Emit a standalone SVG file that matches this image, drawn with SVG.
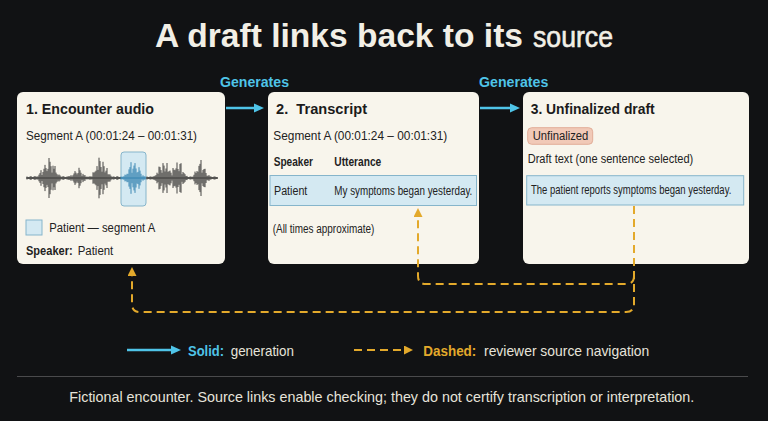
<svg xmlns="http://www.w3.org/2000/svg" width="768" height="421" viewBox="0 0 768 421">
<defs>
<style>
.bg{fill:#111214}
.box{fill:#f8f5ec}
.h{font-family:'Liberation Sans',Arial,sans-serif;font-weight:bold;font-size:15.5px;fill:#1b1b1b}
.b{font-family:'Liberation Sans',Arial,sans-serif;font-size:12.5px;fill:#222}
.bb{font-weight:bold}
.hl{fill:#d4e9f2;stroke:#86b5cb;stroke-width:1}
.gen{stroke:#4fc4e8;stroke-width:2.5;fill:none}
.nav{stroke:#e3a92b;stroke-width:2;stroke-dasharray:8 5;fill:none}
.cy{fill:#4fc4e8}
.lt{font-family:'Liberation Sans',Arial,sans-serif;font-size:14.5px;fill:#e6e3da}
.wave{stroke:#333;stroke-width:0.9;fill:none}
.waveb{stroke:#2f7fae;stroke-width:0.9;fill:none}
</style>
<marker id="ac" viewBox="0 0 10 10" refX="4" refY="5" markerWidth="10" markerHeight="10" markerUnits="userSpaceOnUse" orient="auto">
<path d="M0,0.5 L10,5 L0,9.5 z" fill="#4fc4e8"/>
</marker>
<marker id="ao" viewBox="0 0 9 9" refX="3" refY="4.5" markerWidth="9" markerHeight="9" markerUnits="userSpaceOnUse" orient="auto">
<path d="M0,0 L9,4.5 L0,9 z" fill="#e3a92b"/>
</marker>
</defs>
<rect class="bg" x="0" y="0" width="768" height="421"/>

<text id="title" x="155" y="47" font-family="'Liberation Sans',Arial,sans-serif" font-weight="bold" font-size="33" fill="#f2efe6"><tspan textLength="368" lengthAdjust="spacingAndGlyphs">A draft links back to its</tspan> <tspan x="533" font-weight="normal" font-size="29" stroke="#f2efe6" stroke-width="0.6" textLength="80" lengthAdjust="spacingAndGlyphs">source</tspan></text>

<g id="n1">
<rect class="box" x="17" y="92" width="208" height="172" rx="6"/>
<text class="h" x="26" y="114" textLength="128" lengthAdjust="spacingAndGlyphs">1. Encounter audio</text>
<text class="b" x="26" y="140" textLength="171" lengthAdjust="spacingAndGlyphs">Segment A (00:01:24 – 00:01:31)</text>
<rect class="hl" x="121" y="152" width="25" height="54" rx="3"/>
<path class="wave" d="M26 178H121M146 178H218"/>
<path class="waveb" d="M121 178H146"/>
<path class="wave" d="M27 176.5v3M29 177v2M31 176v4M33 177v2M35 176v4M37 176.5v3M39 174.7v6.6M41 170.2v15.6M43 172v12M45 164.9v26.2M47 171.1v13.8M49 158v40M51 166.2v23.6M53 165.7v24.6M55 166v24M57 174.1v7.8M59 174.5v7M61 176.5v3M63 176v4M65 177v2M67 176.5v3M69 176v4M71 175.2v5.6M73 175.2v5.6M75 171.1v13.8M77 174.3v7.4M79 167.8v20.4M81 172.8v10.4M83 173.9v8.2M85 175.2v5.6M87 176.5v3M89 176.5v3M91 176.5v3M93 172.3v11.4M95 171.7v12.6M97 166.1v23.8M99 157.7v40.6M101 167v22M103 161.8v32.4M105 172.4v11.2M107 168v20M109 174.4v7.2M111 175.8v4.4M113 176.5v3M115 177v2M117 176v4M119 177v2M147 176.5v3M149 177v2M151 176.5v3M153 176.5v3M155 175.8v4.4M157 172.7v10.6M159 166.6v22.8M161 170.1v15.8M163 163.1v29.8M165 171.5v13M167 163v30M169 171.2v13.6M171 172.7v10.6M173 168v20M175 170.2v15.6M177 162.5v31M179 171.2v13.6M181 163.2v29.6M183 172v12M185 174.2v7.6M187 175.9v4.2M189 177v2M191 176.5v3M193 176.5v3M195 171.6v12.8M197 171.1v13.8M199 165.9v24.2M201 160v36M203 170v16M205 168.8v18.4M207 175.7v4.6M209 175.1v5.8M211 176.5v3M213 177v2M215 176.5v3M217 177v2"/>
<path class="wave" d="M28 177v2M30 176.5v3M32 177v2M34 176.5v3M36 176.8v2.4M38 176.5v3M40 173.1v9.8M42 175v6M44 168.8v18.4M46 168.1v19.8M48 168.9v18.2M50 161.8v32.4M52 172.6v10.8M54 168.8v18.4M56 172.6v10.8M58 175.3v5.4M60 175.4v5.2M62 177v2M64 176.5v3M66 177v2M68 176.5v3M70 176.4v3.2M72 176.5v3M74 173.5v9M76 172.7v10.6M78 173v10M80 170.3v15.4M82 175.9v4.2M84 175.3v5.4M86 176.9v2.2M88 177v2M90 176.4v3.2M92 176.6v2.8M94 172.7v10.6M96 170.7v14.6M98 169.9v16.2M100 161.1v33.8M102 171.7v12.6M104 166.2v23.6M106 170.7v14.6M108 174.3v7.4M110 174.4v7.2M112 177v2M114 176.5v3M116 177v2M118 176.5v3M120 177v2M148 177v2M150 176.5v3M152 177v2M154 176.3v3.4M156 175.1v5.8M158 173.9v8.2M160 167.1v21.8M162 172.8v10.4M164 165.6v24.8M166 168.5v19M168 171.9v12.2M170 170.6v14.8M172 175.4v5.2M174 169.7v16.6M176 168.4v19.2M178 169v18M180 164v28M182 174.2v7.6M184 173.1v9.8M186 176v4M188 177v2M190 176.5v3M192 177v2M194 174.8v6.4M196 173v10M198 171.8v12.4M200 163.9v28.2M202 172.7v10.6M204 169v18M206 173v10M208 175.8v4.4M210 176.3v3.4M212 177v2M214 176.5v3M216 177v2"/>
<path class="waveb" d="M121 176.5v3M123 176.5v3M125 174.6v6.8M127 173.8v8.4M129 169.4v17.2M131 162.2v31.6M133 168.7v18.6M135 163.1v29.8M137 172.5v11M139 167.2v21.6M141 173.8v8.4M143 175.3v5.4M145 176.4v3.2M122 177v2M124 176.3v3.4M126 175.1v5.8M128 173.9v8.2M130 167.1v21.8M132 172.8v10.4M134 165.6v24.8M136 168.5v19M138 171.9v12.2M140 170.6v14.8M142 176.4v3.2M144 176.3v3.4"/>
<rect class="hl" x="26" y="220" width="16" height="15"/>
<text class="b" x="49.3" y="231.5" textLength="106" lengthAdjust="spacingAndGlyphs">Patient — segment A</text>
<text class="b" y="255"><tspan class="bb" x="26" textLength="46.7" lengthAdjust="spacingAndGlyphs">Speaker:</tspan> <tspan x="77.7" textLength="35.6" lengthAdjust="spacingAndGlyphs">Patient</tspan></text>
</g>

<g id="n2">
<rect class="box" x="268" y="92" width="211" height="172" rx="6"/>
<text class="h" x="276" y="114" xml:space="preserve" textLength="91" lengthAdjust="spacingAndGlyphs">2.  Transcript</text>
<text class="b" x="273.3" y="140" font-size="13" textLength="174" lengthAdjust="spacingAndGlyphs">Segment A (00:01:24 – 00:01:31)</text>
<text class="b bb" x="273.7" y="165.5" textLength="39.3" lengthAdjust="spacingAndGlyphs">Speaker</text>
<text class="b bb" x="334.3" y="165.5" textLength="47" lengthAdjust="spacingAndGlyphs">Utterance</text>
<rect class="hl" x="270" y="175.5" width="206.5" height="30"/>
<text class="b" x="274" y="194.5" textLength="33.3" lengthAdjust="spacingAndGlyphs">Patient</text>
<text class="b" x="334.3" y="194.5" textLength="138" lengthAdjust="spacingAndGlyphs">My symptoms began yesterday.</text>
<text class="b" x="272.7" y="233.3" font-size="11.5" textLength="101.6" lengthAdjust="spacingAndGlyphs">(All times approximate)</text>
</g>

<g id="n3">
<rect class="box" x="523" y="92" width="226" height="172" rx="6"/>
<text class="h" x="530.7" y="114" textLength="124" lengthAdjust="spacingAndGlyphs">3. Unfinalized draft</text>
<rect x="527.7" y="127.7" width="65" height="16.6" rx="4" fill="#f1c9b7" stroke="#e2ad98" stroke-width="1"/>
<text class="b" x="532.7" y="140" font-size="12" fill="#3a2a24" textLength="55.6" lengthAdjust="spacingAndGlyphs">Unfinalized</text>
<text class="b" x="527.7" y="163.3" textLength="165.6" lengthAdjust="spacingAndGlyphs">Draft text (one sentence selected)</text>
<rect class="hl" x="526.7" y="175.7" width="217" height="29.3"/>
<text class="b" x="0" y="0" font-size="11.3" transform="translate(531,193.5) scale(0.76,1)">The patient reports symptoms began yesterday.</text>
</g>

<g id="connectors">
<text x="220" y="86.5" font-family="'Liberation Sans',Arial,sans-serif" font-weight="bold" font-size="14.5" class="cy" textLength="69" lengthAdjust="spacingAndGlyphs">Generates</text>
<text x="479" y="86.5" font-family="'Liberation Sans',Arial,sans-serif" font-weight="bold" font-size="14.5" class="cy" textLength="69.3" lengthAdjust="spacingAndGlyphs">Generates</text>
<line class="gen" x1="226" y1="108" x2="258" y2="108" marker-end="url(#ac)"/>
<line class="gen" x1="480" y1="108" x2="514" y2="108" marker-end="url(#ac)"/>
<path class="nav" d="M634,206 V304 Q634,312 626,312 H140 Q132,312 132,304 V273" marker-end="url(#ao)"/>
<path class="nav" d="M634,276 Q634,284 626,284 H426 Q418,284 418,276 V214" marker-end="url(#ao)"/>
</g>

<g id="legend">
<line class="gen" x1="127" y1="350" x2="175" y2="350" marker-end="url(#ac)"/>
<text class="lt" y="356"><tspan x="188" font-weight="bold" fill="#4fc4e8" textLength="36" lengthAdjust="spacingAndGlyphs">Solid:</tspan> <tspan x="230.7" textLength="63.3" lengthAdjust="spacingAndGlyphs">generation</tspan></text>
<line class="nav" x1="354" y1="350" x2="407" y2="350" marker-end="url(#ao)"/>
<text class="lt" y="356"><tspan x="423.3" font-weight="bold" fill="#e3a92b" textLength="53" lengthAdjust="spacingAndGlyphs">Dashed:</tspan> <tspan x="484" textLength="165.3" lengthAdjust="spacingAndGlyphs">reviewer source navigation</tspan></text>
</g>

<line x1="17" y1="376.5" x2="748" y2="376.5" stroke="#4a4a4c" stroke-width="1"/>
<text id="footer" class="lt" x="69.3" y="401.7" fill="#e2dfd6" textLength="625" lengthAdjust="spacingAndGlyphs">Fictional encounter. Source links enable checking; they do not certify transcription or interpretation.</text>
</svg>
